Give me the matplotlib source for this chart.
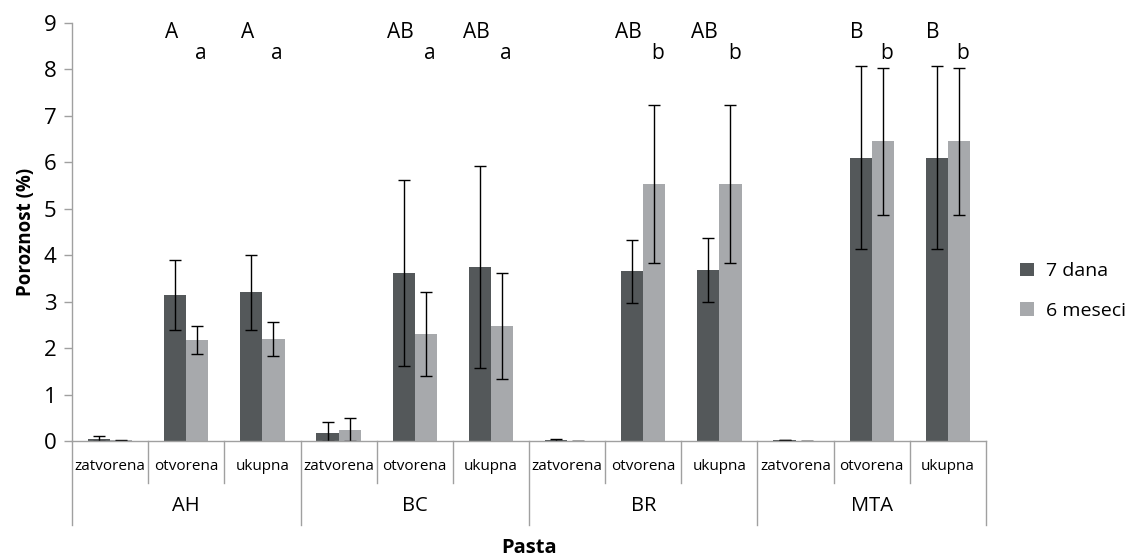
import matplotlib.pyplot as plt
import numpy as np

plt.rcParams['font.family'] = ['Open Sans', 'DejaVu Sans']

groups = ['AH', 'BC', 'BR', 'MTA']
subcats = ['zatvorena', 'otvorena', 'ukupna']
series = ['7 dana', '6 meseci']

dana7 = [0.05, 3.15, 3.20, 0.17, 3.62, 3.75, 0.03, 3.65, 3.68, 0.02, 6.10, 6.10]
dana7_err = [0.05, 0.75, 0.80, 0.23, 2.00, 2.17, 0.02, 0.68, 0.69, 0.00, 1.97, 1.97]
meseci6 = [0.02, 2.17, 2.20, 0.23, 2.30, 2.47, 0.01, 5.53, 5.53, 0.01, 6.45, 6.45]
meseci6_err = [0.01, 0.30, 0.36, 0.26, 0.90, 1.14, 0.00, 1.70, 1.70, 0.00, 1.58, 1.58]

upper_letters = ['', 'A', 'A', '', 'AB', 'AB', '', 'AB', 'AB', '', 'B', 'B']
lower_letters = ['', 'a', 'a', '', 'a', 'a', '', 'b', 'b', '', 'b', 'b']

dark = '#54585a'
light = '#a7a9ac'
grey = '#a0a0a0'


def main():
    fig = plt.figure(figsize=(11.29, 5.6), dpi=100)
    ax = fig.add_axes([72 / 1129, 119 / 560, (986 - 72) / 1129, (441 - 23) / 560])

    n = len(dana7)
    x = np.arange(n) + 0.5
    w = 0.29
    d7 = np.array(dana7)
    m6 = np.array(meseci6)
    e7 = np.array(dana7_err)
    e6 = np.array(meseci6_err)

    ax.bar(x - w / 2, d7, w, color=dark, label=series[0])
    ax.bar(x + w / 2, m6, w, color=light, label=series[1])
    ax.errorbar(x - w / 2, d7, yerr=[np.minimum(e7, d7), e7], fmt='none',
                ecolor='black', elinewidth=1, capsize=4, capthick=1)
    ax.errorbar(x + w / 2, m6, yerr=[np.minimum(e6, m6), e6], fmt='none',
                ecolor='black', elinewidth=1, capsize=4, capthick=1)

    # significance letters
    for i in range(n):
        if upper_letters[i]:
            ax.text(x[i] - w / 2 - 0.05, 8.8, upper_letters[i], ha='center', va='center', fontsize=15)
            ax.text(x[i] + w / 2 + 0.05, 8.35, lower_letters[i], ha='center', va='center', fontsize=15)

    ax.set_xlim(0, n)
    ax.set_ylim(0, 9)
    ax.set_yticks(range(10))
    ax.set_xticks([])
    ax.tick_params(axis='y', labelsize=16, length=6, color=grey, width=1, pad=5)
    for s in ['top', 'right']:
        ax.spines[s].set_visible(False)
    ax.spines['left'].set_color(grey)
    ax.spines['bottom'].set_color(grey)
    ax.spines['left'].set_linewidth(1)
    ax.spines['bottom'].set_linewidth(1)

    # two-level category axis
    trans = ax.get_xaxis_transform()
    for i in range(n + 1):
        bottom = -0.2 if i % 3 == 0 else -0.1
        ax.plot([i, i], [0, bottom], color=grey, lw=1, transform=trans, clip_on=False)
    for i in range(n):
        ax.text(x[i], -0.06, subcats[i % 3], transform=trans, ha='center', va='center', fontsize=11)
    for g, name in enumerate(groups):
        ax.text(g * 3 + 1.5, -0.155, name, transform=trans, ha='center', va='center', fontsize=14.5)

    ax.set_ylabel('Poroznost (%)', fontsize=13.5, fontweight='bold', labelpad=6)
    fig.text(529 / 1129, 1 - 548 / 560, 'Pasta', ha='center', va='center', fontsize=14.5, fontweight='bold')

    ax.legend(loc='center left', bbox_to_anchor=(1003 / 1129, 1 - 291 / 560),
              bbox_transform=fig.transFigure, frameon=False, fontsize=14,
              handlelength=0.7, handleheight=0.7, labelspacing=1.1, handletextpad=0.6)

    plt.savefig('out.png', dpi=100)


if __name__ == '__main__':
    main()
